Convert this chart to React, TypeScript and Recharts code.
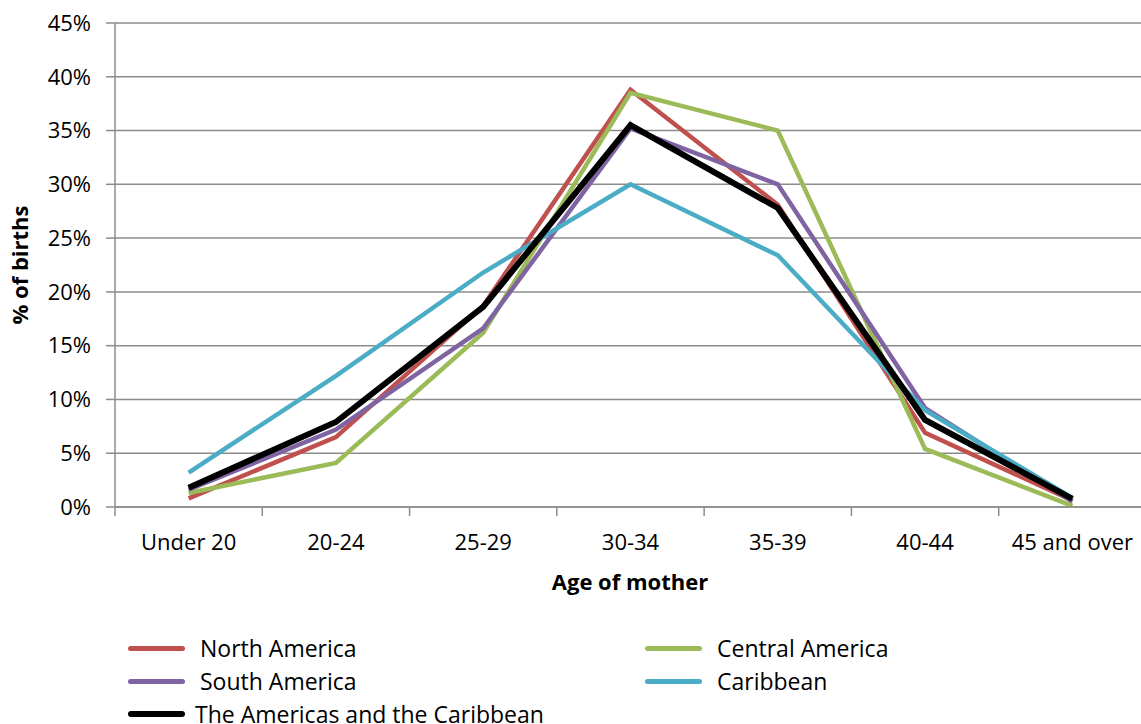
import React from 'react';
import { LineChart, Line, XAxis, YAxis, CartesianGrid } from 'recharts';

const categories = ['Under 20', '20-24', '25-29', '30-34', '35-39', '40-44', '45 and over'];
const northAmerica = [0.8, 6.5, 18.7, 38.8, 28.1, 6.9, 0.6];
const centralAmerica = [1.3, 4.1, 16.2, 38.5, 35.0, 5.4, 0.1];
const southAmerica = [1.6, 7.2, 16.6, 35.2, 30.0, 9.2, 0.5];
const caribbean = [3.2, 12.2, 21.8, 30.0, 23.4, 9.0, 0.85];
const americas = [1.8, 7.9, 18.6, 35.5, 27.8, 8.1, 0.75];
const yTicks = [0, 5, 10, 15, 20, 25, 30, 35, 40, 45];

const series = [
  { key: 'na', name: 'North America', values: northAmerica, color: '#C0504D', width: 4.5 },
  { key: 'ca', name: 'Central America', values: centralAmerica, color: '#9BBB59', width: 4.5 },
  { key: 'sa', name: 'South America', values: southAmerica, color: '#8064A2', width: 4.5 },
  { key: 'cb', name: 'Caribbean', values: caribbean, color: '#4BACC6', width: 4.5 },
  { key: 'am', name: 'The Americas and the Caribbean', values: americas, color: '#000000', width: 6 },
];

const data = categories.map((c, i) => {
  const row: any = { cat: c };
  series.forEach((s) => { row[s.key] = s.values[i]; });
  return row;
});

const FONT = 'Open Sans, sans-serif';
const CHART_W = 1160;
const CHART_H = 724;
const PLOT_LEFT = 115;
const PLOT_RIGHT = 1146;
const PLOT_TOP = 23;
const PLOT_BOTTOM = 507;
const STEP = (PLOT_RIGHT - PLOT_LEFT) / categories.length;
const GRID = '#8c8c8c';

const XTick = (props: any) => {
  const { x, payload, index } = props;
  const y = PLOT_BOTTOM;
  return (
    <g>
      <line x1={x - STEP / 2} y1={y} x2={x - STEP / 2} y2={y + 9} stroke={GRID} strokeWidth={1.5} />
      {index === categories.length - 1 && (
        <line x1={x + STEP / 2} y1={y} x2={x + STEP / 2} y2={y + 9} stroke={GRID} strokeWidth={1.5} />
      )}
      <text x={x} y={y + 43} textAnchor="middle" fontFamily={FONT} fontSize={22} fill="#000">
        {payload.value}
      </text>
    </g>
  );
};

export default function App() {
  const legendRows = [
    [series[0], series[1]],
    [series[2], series[3]],
    [series[4]],
  ];
  return (
    <div style={{ position: 'absolute', left: 0, top: 0, width: 1141, height: 724, overflow: 'hidden', background: '#fff' }}>
      <LineChart
        width={CHART_W}
        height={CHART_H}
        data={data}
        margin={{ top: PLOT_TOP, right: CHART_W - PLOT_RIGHT, left: 0, bottom: CHART_H - PLOT_BOTTOM - 90 }}
      >
        <CartesianGrid vertical={false} stroke={GRID} strokeWidth={1.5} />
        <XAxis
          dataKey="cat"
          scale="band"
          height={90}
          tickLine={false}
          axisLine={{ stroke: GRID, strokeWidth: 1.5 }}
          tick={<XTick />}
          interval={0}
          label={{
            content: () => (
              <text x={630} y={590} textAnchor="middle" fontFamily={FONT} fontSize={22} fontWeight="bold" fill="#000">
                Age of mother
              </text>
            ),
          }}
        />
        <YAxis
          width={PLOT_LEFT}
          domain={[0, 45]}
          ticks={yTicks}
          interval={0}
          tickFormatter={(v: number) => `${v}%`}
          tickSize={9}
          tickMargin={15}
          tickLine={{ stroke: GRID, strokeWidth: 1.5 }}
          axisLine={{ stroke: GRID, strokeWidth: 1.5 }}
          tick={{ fontFamily: FONT, fontSize: 22, fill: '#000' }}
          label={{
            content: () => (
              <text
                x={28}
                y={265}
                transform="rotate(-90, 28, 265)"
                textAnchor="middle"
                fontFamily={FONT}
                fontSize={22}
                fontWeight="bold"
                fill="#000"
              >
                % of births
              </text>
            ),
          }}
        />
        {series.map((s) => (
          <Line
            key={s.key}
            dataKey={s.key}
            name={s.name}
            stroke={s.color}
            strokeWidth={s.width}
            dot={false}
            activeDot={false}
            isAnimationActive={false}
            strokeLinejoin="miter"
          />
        ))}
      </LineChart>
      {legendRows.map((row, ri) => (
        <div key={ri} style={{ position: 'absolute', top: 634 + ri * 33, left: 0, height: 28, width: 1141 }}>
          {row.map((s, ci) => (
            <div
              key={s.key}
              style={{ position: 'absolute', left: ci === 0 ? 128 : 645, top: 0, display: 'flex', alignItems: 'center', height: 28 }}
            >
              <div style={{ width: 57, height: s.key === 'am' ? 6 : 5, borderRadius: 3, background: s.color }} />
              <span style={{ marginLeft: s.key === 'am' ? 10 : 15, fontFamily: FONT, fontSize: 23, lineHeight: '28px', color: '#000', whiteSpace: 'nowrap' }}>
                {s.name}
              </span>
            </div>
          ))}
        </div>
      ))}
    </div>
  );
}
